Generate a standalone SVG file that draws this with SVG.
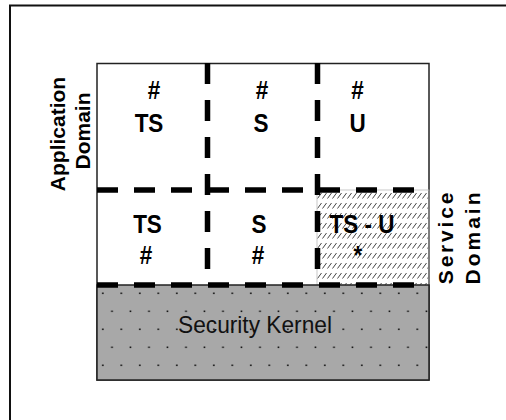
<svg xmlns="http://www.w3.org/2000/svg" width="506" height="420" viewBox="0 0 506 420">
  <defs>
    <pattern id="hatch" patternUnits="userSpaceOnUse" x="317" y="190" width="5" height="10">
      <line x1="0.5" y1="8.5" x2="4.5" y2="3" stroke="#444" stroke-width="1"/>
    </pattern>
    <pattern id="dots" patternUnits="userSpaceOnUse" x="97" y="285" width="18.5" height="36">
      <rect x="0" y="0" width="18.5" height="36" fill="#a8a8a8"/>
      <rect x="5" y="7.5" width="1.6" height="1.6" fill="#111"/>
      <rect x="14.2" y="25.5" width="1.6" height="1.6" fill="#111"/>
    </pattern>
    <style>
      .cell { font-family: "Liberation Sans", Arial, sans-serif; font-weight: bold; font-size: 25px; fill: #000; text-anchor: middle; }
      .dom { font-family: "Liberation Sans", Arial, sans-serif; font-weight: bold; font-size: 21px; fill: #000; text-anchor: middle; }
      .dash { stroke: #000; stroke-width: 5.5; stroke-dasharray: 21 16; fill: none; }
    </style>
  </defs>
  <rect width="506" height="420" fill="#fff"/>
  <path d="M10,420 V5.5 H506" fill="none" stroke="#111" stroke-width="2"/>

  <g id="main-box">
    <rect x="97" y="63.5" width="332" height="316.5" fill="#fff" stroke="#222" stroke-width="1.5"/>
  </g>
  <g id="cell-ts-u">
    <rect x="317" y="190" width="112" height="95" fill="url(#hatch)" stroke="#bbb" stroke-width="0.8"/>
    <text class="cell" transform="translate(362,233) scale(0.9,1)">TS - U</text>
    <text class="cell" transform="translate(358,264) scale(0.9,1)">*</text>
  </g>
  <g id="security-kernel">
    <rect x="97" y="285" width="332" height="95" fill="url(#dots)" stroke="#222" stroke-width="1.5"/>
    <text x="255" y="333" font-family="Liberation Sans, Arial, sans-serif" font-size="24" text-anchor="middle" textLength="154" lengthAdjust="spacingAndGlyphs" fill="#111">Security Kernel</text>
  </g>

  <g id="connectors">
    <line class="dash" x1="207.5" y1="63" x2="207.5" y2="285"/>
    <line class="dash" x1="317.5" y1="63" x2="317.5" y2="285"/>
    <line class="dash" x1="97" y1="190" x2="429" y2="190"/>
    <line class="dash" x1="97" y1="285" x2="429" y2="285"/>
  </g>

  <g id="cell-app-ts">
    <text class="cell" transform="translate(154,99) scale(0.9,1)">#</text>
    <text class="cell" transform="translate(149,132) scale(0.9,1)">TS</text>
  </g>
  <g id="cell-app-s">
    <text class="cell" transform="translate(262,99) scale(0.9,1)">#</text>
    <text class="cell" transform="translate(261,132) scale(0.9,1)">S</text>
  </g>
  <g id="cell-app-u">
    <text class="cell" transform="translate(357.5,99) scale(0.9,1)">#</text>
    <text class="cell" transform="translate(357.5,132) scale(0.9,1)">U</text>
  </g>
  <g id="cell-svc-ts">
    <text class="cell" transform="translate(147.5,233) scale(0.9,1)">TS</text>
    <text class="cell" transform="translate(146,264) scale(0.9,1)">#</text>
  </g>
  <g id="cell-svc-s">
    <text class="cell" transform="translate(259,233) scale(0.9,1)">S</text>
    <text class="cell" transform="translate(258,264) scale(0.9,1)">#</text>
  </g>

  <g id="application-domain">
    <text class="dom" transform="translate(64.5,134) rotate(-90)">Application</text>
    <text class="dom" transform="translate(89.5,131) rotate(-90)">Domain</text>
  </g>
  <g id="service-domain">
    <text class="dom" transform="translate(452.5,237) rotate(-90)" letter-spacing="2.8">Service</text>
    <text class="dom" transform="translate(480,237) rotate(-90)" letter-spacing="3">Domain</text>
  </g>
</svg>
